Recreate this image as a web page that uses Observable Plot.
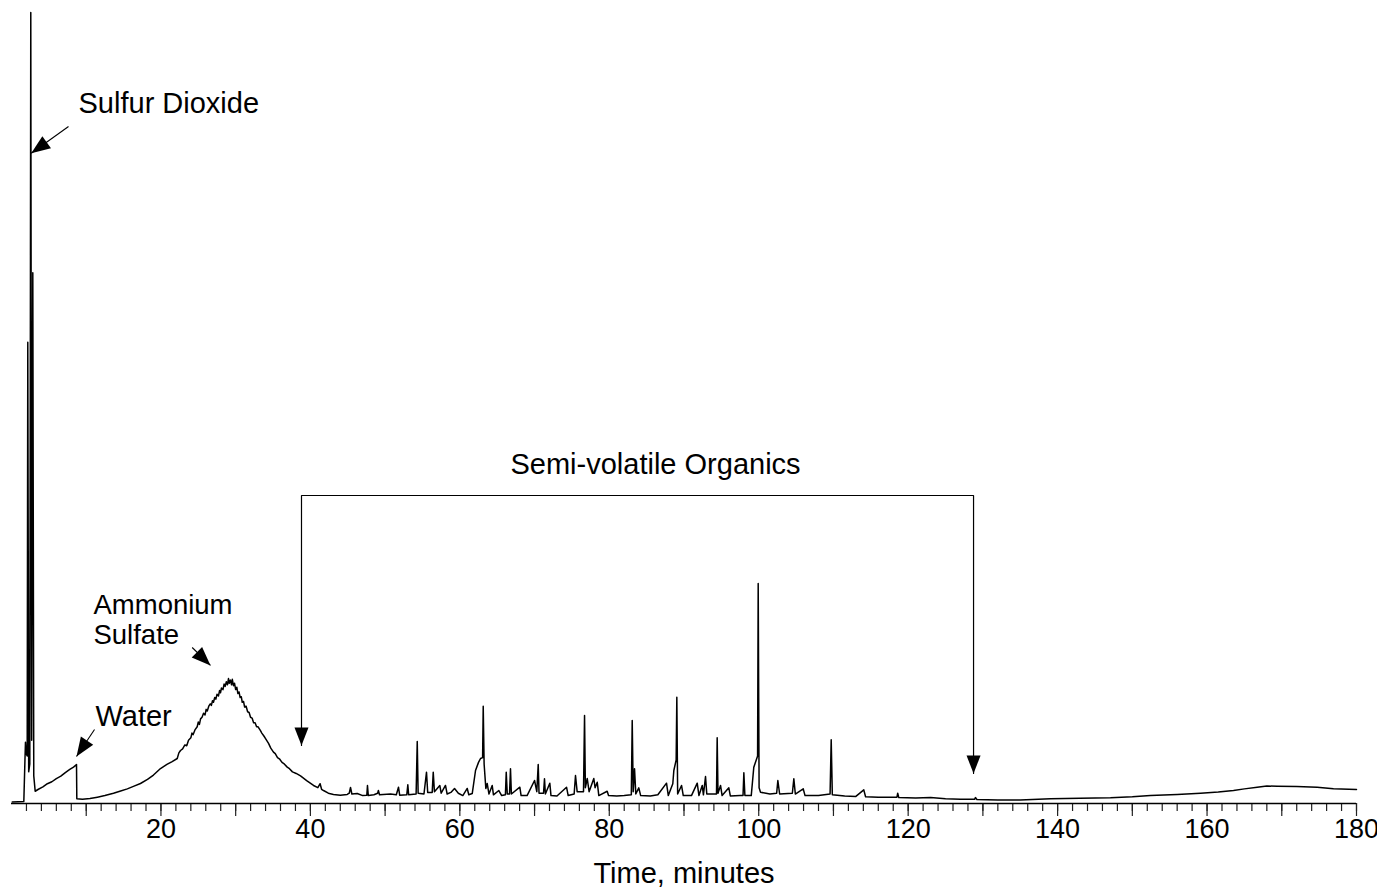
<!DOCTYPE html>
<html><head><meta charset="utf-8">
<script src="https://cdn.jsdelivr.net/npm/d3@7"></script>
<script src="https://cdn.jsdelivr.net/npm/@observablehq/plot@0.6"></script>
<style>html,body{margin:0;padding:0;background:#fff;}</style>
</head><body><div id="chart"></div>
<script>
// ---- chromatogram trace (time in minutes, detector signal in arbitrary units) ----
const time = [
0.10,1.65,1.80,1.87,1.97,2.10,2.18,2.30,2.45,2.58,2.70,2.85,2.98,3.17,3.60,4.20,4.80,5.40,6.00,6.60,7.20,7.80,8.30,8.70,8.74,
9.50,10.5,11.5,12.5,13.65,14.5,15.5,16.4,17.26,18.2,19.0,19.94,20.8,21.5,22.18,22.40,
22.62,22.9,23.2,23.45,23.69,24.0,24.15,24.3,24.55,24.85,25.0,
25.15,25.3,25.5,25.70,25.9,26.05,26.2,26.4,26.6,26.75,26.9,
27.03,27.2,27.35,27.5,27.7,27.85,27.97,28.1,28.3,28.45,28.6,
28.75,28.9,29.04,29.15,29.3,29.45,29.55,29.71,29.85,30.0,30.15,
30.3,30.45,30.6,30.75,30.88,31.05,31.2,31.4,31.6,31.8,31.99,
32.2,32.4,32.6,32.8,33.0,33.32,33.5,33.8,34.0,34.4,34.7,
35.06,35.3,35.6,35.9,36.2,36.5,36.90,37.2,37.6,38.1,38.68,
39.5,40.42,41.0,41.3,41.5,41.76,42.4,43.09,44.0,44.93,45.2,45.37,45.55,46.27,47.0,47.55,47.64,47.75,48.5,49.0,49.1,49.25,
50.72,51.5,51.79,51.95,52.9,53.04,53.15,54.15,54.30,54.42,55.2,55.54,55.7,56.3,56.44,56.6,57.32,57.5,58.08,58.3,58.8,59.29,59.8,60.4,60.99,
61.2,61.66,62.10,62.5,62.77,63.05,63.13,63.25,63.48,63.66,63.9,64.33,64.5,65.22,65.6,66.1,66.21,66.35,66.65,66.78,66.9,68.03,68.2,69.0,70.0,
70.3,70.49,70.6,71.2,71.33,71.45,72.04,72.2,73.0,74.28,74.5,75.3,75.48,75.7,76.55,76.69,76.8,77.05,77.3,77.93,78.1,78.39,78.6,79.72,79.9,
81.0,82.0,82.95,83.07,83.2,83.38,83.55,83.95,84.2,85.5,86.5,87.66,87.9,88.5,88.64,88.95,89.04,89.15,89.67,89.9,91.0,91.77,92.0,92.44,92.6,
92.88,93.05,94.35,94.44,94.55,94.89,95.1,96.0,96.2,97.5,97.9,98.01,98.15,99.0,99.34,99.85,99.93,100.05,100.24,101.5,102.4,102.56,102.8,104.5,104.70,
104.9,105.95,106.2,108.0,109.55,109.70,109.85,111.5,113.0,114.06,114.3,116.0,118.5,118.6,118.75,121.0,123.0,125.0,127.0,128.9,129.0,129.2,132.0,135.0,139.05,
143.0,147.08,150.0,152.43,156.0,159.13,161.5,163.54,165.0,166.71,168.0,169.39,172.0,174.74,176.92,180.0
];
const signal = [
0.20,0.25,5.50,7.75,6.30,6.00,58.30,4.00,5.00,100.0,8.00,67.10,3.50,1.55,1.80,2.10,2.50,2.75,3.15,3.45,3.90,4.30,4.60,4.93,0.60,
0.55,0.62,0.80,1.00,1.30,1.55,1.85,2.20,2.53,3.05,3.60,4.42,4.95,5.30,5.69,6.40,
6.70,6.9,7.4,7.3,8.0,8.3,8.9,8.7,9.3,9.7,10.3,
10.0,10.7,10.9,11.4,11.2,11.9,11.7,12.3,12.6,12.4,13.0,
12.8,13.4,13.2,13.8,13.6,14.3,14.0,14.6,14.4,15.1,14.8,
15.4,15.0,15.8,15.2,15.6,15.0,15.7,14.9,15.2,14.4,14.7,
13.9,14.1,13.4,13.5,12.8,12.9,12.2,12.3,11.6,11.5,10.9,
10.8,10.2,10.2,9.7,9.7,9.2,8.9,8.5,8.2,7.6,7.0,
6.5,6.3,5.8,5.6,5.2,5.0,4.6,4.4,4.0,3.8,3.5,
2.9,2.28,2.0,2.5,1.8,1.64,1.3,1.14,1.05,1.14,1.3,2.02,1.2,1.26,1.0,1.05,2.28,1.0,1.1,1.3,1.64,1.1,
1.2,1.1,2.06,1.05,1.1,2.36,1.1,1.2,7.84,1.3,1.2,3.96,1.4,1.4,3.96,1.5,2.28,1.3,2.28,1.2,1.4,1.90,1.3,1.0,1.90,
1.1,1.26,4.17,5.2,5.69,5.8,12.30,5.0,1.90,2.53,1.2,2.28,1.1,1.64,1.0,1.1,3.96,1.2,1.2,4.39,1.2,2.06,1.0,1.0,2.91,
1.5,4.93,1.3,1.3,3.12,1.2,2.57,1.0,0.95,2.06,1.0,1.2,3.54,1.5,1.5,11.13,2.0,3.16,1.5,3.16,2.0,2.69,1.0,1.55,1.0,
0.95,1.0,1.1,10.49,1.5,4.39,1.2,1.98,1.0,0.95,1.1,2.57,1.0,2.5,4.17,5.5,13.44,1.2,2.28,1.0,1.0,2.57,1.0,2.28,1.1,
3.41,1.2,1.2,8.31,1.3,2.28,1.0,1.98,0.95,1.0,1.0,3.88,1.0,1.0,4.59,6.0,27.81,2.0,1.43,1.2,1.3,2.91,1.2,1.3,3.12,
1.2,1.86,1.0,1.0,1.2,8.06,1.1,0.95,0.9,1.73,0.85,0.8,0.8,1.3,0.75,0.7,0.75,0.6,0.55,0.55,0.75,0.5,0.45,0.45,0.59,
0.65,0.72,0.85,1.01,1.15,1.30,1.45,1.64,1.85,2.06,2.20,2.19,2.15,2.06,1.86,1.77
];

// ---- axis ----
const minorTicks = [2,4,6,8,10,12,14,16,18,20,22,24,26,28,30,32,34,36,38,40,42,44,46,48,50,52,54,56,58,60,62,64,66,68,70,72,74,76,78,80,82,84,86,88,90,92,94,96,98,100,102,104,106,108,110,112,114,116,118,120,122,124,126,128,130,132,134,136,138,140,142,144,146,148,150,152,154,156,158,160,162,164,166,168,170,172,174,176,178,180];
const majorTicks = [10,20,30,40,50,60,70,80,90,100,110,120,130,140,150,160,170,180];
const tickLabels = [20,40,60,80,100,120,140,160,180];
const axisTitle = "Time, minutes";

// ---- annotations ----
const labelText   = ["Sulfur Dioxide", "Water", "Ammonium", "Sulfate", "Semi-volatile Organics"];
const labelTime   = [8.97, 11.24, 10.97, 10.97, 86.19];
const labelSignal = [88.53, 10.91, 25.13, 21.34, 42.77];
const labelSize   = [29, 29, 27.5, 27.5, 29];
const labelAlign  = ["start", "start", "start", "start", "middle"];

const arrowFromTime   = [7.63, 11.11, 24.18];
const arrowFromSignal = [85.59, 9.36, 19.72];
const arrowToTime     = [2.64, 8.70, 26.63];
const arrowToSignal   = [82.21, 5.94, 17.45];

const bracketTime   = [38.81, 38.81, 128.75, 128.75];
const bracketSignal = [7.33, 38.94, 38.94, 3.79];

// ---- layout ----
const W = 1377, H = 888, mL = 11, mR = 21, mT = 12, mB = 85;
const xDomain = [0, 180], yDomain = [0, 100];
const xs = d3.scaleLinear(xDomain, [mL, W - mR]);
const ys = d3.scaleLinear(yDomain, [H - mB, mT]);

const trace = time.map((t, i) => ({t, s: signal[i]}));
const labels = labelText.map((text, i) => ({text, t: labelTime[i], s: labelSignal[i], size: labelSize[i], align: labelAlign[i]}));
const arrows = arrowFromTime.map((t, i) => ({t1: t, s1: arrowFromSignal[i], t2: arrowToTime[i], s2: arrowToSignal[i]}));
const heads = arrows.map(a => {
  const dx = xs(a.t2) - xs(a.t1), dy = ys(a.s2) - ys(a.s1);
  return {t: a.t2, s: a.s2, a: Math.atan2(-dx, dy) * 180 / Math.PI};
});
const bracket = bracketTime.map((t, i) => ({t, s: bracketSignal[i]}));
const bracketHeads = [bracket[0], bracket[3]].map(d => ({t: d.t, s: d.s, a: 0}));

const headSymbol = {
  draw(ctx, size) {
    const r = Math.sqrt(size / Math.PI);
    const L = 2 * r, w = 0.78 * r;
    ctx.moveTo(0, 0);
    ctx.lineTo(-w, -L);
    ctx.lineTo(w, -L);
    ctx.closePath();
  }
};

const chart = Plot.plot({
  width: W, height: H,
  marginLeft: mL, marginRight: mR, marginTop: mT, marginBottom: mB,
  x: {domain: xDomain, axis: null, label: null},
  y: {domain: yDomain, axis: null, label: null},
  style: {fontFamily: "'Liberation Sans', Arial, Helvetica, sans-serif", background: "#fff", color: "#000", overflow: "visible"},
  marks: [
    Plot.axisX(minorTicks, {anchor: "bottom", tickSize: 8, tickFormat: () => "", stroke: "#222", strokeWidth: 1.2, label: null}),
    Plot.axisX(majorTicks, {anchor: "bottom", tickSize: 13, tickFormat: () => "", stroke: "#222", strokeWidth: 1.2, label: null}),
    Plot.axisX(tickLabels, {anchor: "bottom", tickSize: 0, tickPadding: 15, fontSize: 27, fill: "#000", tickFormat: d => String(d), label: null}),
    Plot.ruleY([0], {stroke: "#000", strokeWidth: 1.6}),
    Plot.text([axisTitle], {frameAnchor: "bottom", dy: 79, fontSize: 29, fill: "#000"}),
    Plot.line(trace, {x: "t", y: "s", stroke: "#000", strokeWidth: 1.5, curve: "linear"}),
    Plot.text(labels.filter(d => d.align === "start"), {x: "t", y: "s", text: "text", fontSize: d => d.size, textAnchor: "start", fill: "#000"}),
    Plot.text(labels.filter(d => d.align === "middle"), {x: "t", y: "s", text: "text", fontSize: d => d.size, textAnchor: "middle", fill: "#000"}),
    Plot.link(arrows, {x1: "t1", y1: "s1", x2: "t2", y2: "s2", stroke: "#000", strokeWidth: 1.1}),
    Plot.dot(heads, {x: "t", y: "s", rotate: "a", symbol: headSymbol, r: 9.5, fill: "#000", stroke: "none"}),
    Plot.line(bracket, {x: "t", y: "s", stroke: "#000", strokeWidth: 1.2, curve: "linear", strokeLinejoin: "miter"}),
    Plot.dot(bracketHeads, {x: "t", y: "s", rotate: "a", symbol: headSymbol, r: 9, fill: "#000", stroke: "none"})
  ]
});
document.getElementById("chart").appendChild(chart);
</script>
</body></html>
